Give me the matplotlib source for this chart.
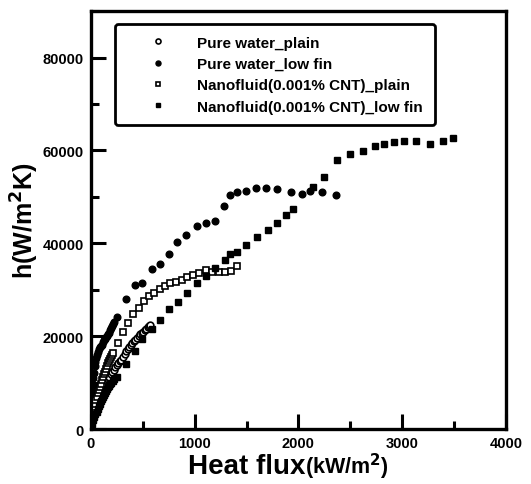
import numpy as np
import matplotlib.pyplot as plt
from matplotlib.ticker import MultipleLocator

plt.rcParams['font.family'] = ['Liberation Sans', 'DejaVu Sans']
plt.rcParams['font.weight'] = 'bold'
plt.rcParams['mathtext.default'] = 'bf'

# Pure water_plain (open circles)
pw_plain_x = [5, 10, 15, 20, 28, 35, 42, 50, 58, 66, 75, 85, 95, 105, 115, 128, 140, 152, 165, 178,
              192, 205, 220, 235, 250, 265, 280, 295, 310, 325, 340, 355, 370, 385, 400, 415, 430,
              445, 460, 475, 490, 505, 520, 535, 550, 565, 575]
pw_plain_y = [1500, 2300, 3000, 3700, 4300, 4900, 5400, 5800, 6200, 6500, 6900, 7400, 7900, 8400,
              8900, 9400, 9900, 10300, 10800, 11300, 11800, 12300, 12800, 13300, 13800, 14200,
              14600, 15000, 15600, 16200, 16800, 17300, 17700, 18100, 18500, 18900, 19300, 19700,
              20100, 20400, 20700, 21000, 21300, 21600, 21900, 22200, 22500]

# Pure water_low fin (filled circles)
pw_fin_x = [5, 8, 12, 16, 20, 25, 30, 36, 42, 50, 58, 66, 75, 85, 95, 105, 115, 125, 135, 145,
            155, 165, 175, 185, 195, 205, 215, 225, 249, 340, 427, 498, 592, 670, 754, 832, 919,
            1019, 1110, 1194, 1285, 1343, 1408, 1495, 1595, 1689, 1790, 1932, 2036, 2110, 2230, 2359]
pw_fin_y = [2500, 4000, 6000, 8000, 9500, 11000, 12200, 13500, 14500, 15300, 16000, 16700, 17200,
            17600, 17900, 18200, 18700, 19100, 19400, 19800, 20100, 20400, 20800, 21300, 21800,
            22200, 22600, 23000, 24140, 27940, 30950, 31520, 34530, 35460, 37610, 40260, 41830,
            43700, 44410, 44770, 48000, 50430, 51070, 51360, 51930, 51860, 51650, 51070, 50720,
            51220, 51070, 50360]

# Nanofluid(0.001% CNT)_plain (open squares)
nf_plain_x = [5, 10, 15, 20, 28, 36, 45, 55, 65, 75, 85, 95, 105, 115, 125, 135, 145, 155, 165,
              175, 185, 195, 205, 215, 265, 314, 362, 411, 460, 508, 563, 612, 663, 718, 767, 822,
              880, 929, 987, 1042, 1107, 1172, 1236, 1291, 1350, 1408]
nf_plain_y = [1500, 2500, 3300, 4000, 4800, 5500, 6200, 7000, 7700, 8400, 9100, 9800, 10500,
              11200, 11800, 12400, 13000, 13600, 14200, 14700, 15200, 15600, 16000, 16300, 18620,
              21000, 22900, 24700, 26100, 27700, 28650, 29370, 30230, 30800, 31380, 31660, 32090,
              32800, 33240, 33670, 34240, 33810, 33810, 33880, 34030, 35100]

# Nanofluid(0.001% CNT)_low fin (filled squares)
nf_fin_x = [5, 15, 25, 35, 45, 55, 65, 75, 85, 95, 105, 115, 125, 135, 145, 155, 165, 175, 185,
            195, 210, 225, 249, 340, 427, 498, 592, 670, 754, 838, 929, 1026, 1110, 1194, 1294,
            1343, 1408, 1495, 1602, 1706, 1796, 1883, 1948, 2142, 2246, 2369, 2498, 2618, 2735,
            2822, 2919, 3016, 3129, 3269, 3388, 3485]
nf_fin_y = [500, 1200, 1900, 2600, 3200, 3800, 4400, 5000, 5500, 6000, 6500, 7000, 7400, 7800,
            8200, 8600, 9000, 9400, 9700, 10000, 10400, 10800, 11320, 13970, 16830, 19340, 21490,
            23500, 25790, 27360, 29230, 31380, 32950, 34740, 36320, 37610, 38180, 39610, 41330,
            42840, 44410, 46200, 47490, 52150, 54300, 57880, 59240, 59960, 60890, 61460, 61750,
            61960, 61960, 61460, 62100, 62680]

fig = plt.figure(figsize=(5.31, 4.85), dpi=100)
ax = fig.add_axes([0.171, 0.113, 0.782, 0.862])

ms = 4.8
ax.plot(pw_plain_x, pw_plain_y, 'o', ms=ms, mfc='white', mec='black', mew=1.2, label='Pure water_plain')
ax.plot(pw_fin_x, pw_fin_y, 'o', ms=ms, mfc='black', mec='black', label='Pure water_low fin')
ax.plot(nf_plain_x, nf_plain_y, 's', ms=ms, mfc='white', mec='black', mew=1.2,
        label='Nanofluid(0.001% CNT)_plain')
ax.plot(nf_fin_x, nf_fin_y, 's', ms=ms, mfc='black', mec='black', label='Nanofluid(0.001% CNT)_low fin')

ax.set_xlim(0, 4000)
ax.set_ylim(0, 90000)
ax.xaxis.set_major_locator(MultipleLocator(1000))
ax.xaxis.set_minor_locator(MultipleLocator(500))
ax.yaxis.set_minor_locator(MultipleLocator(10000))
ax.set_yticks([0, 20000, 40000, 60000, 80000])

ax.tick_params(which='both', direction='in', top=False, right=False, width=2.2, labelsize=10.5)
ax.tick_params(which='major', length=11, pad=5)
ax.tick_params(which='minor', length=6)
for s in ax.spines.values():
    s.set_linewidth(2.4)

ax.set_ylabel('h(W/m$^2$K)', fontsize=18, fontweight='bold', labelpad=1)
ax.text(0.516, -0.105, 'Heat flux', transform=ax.transAxes, fontsize=20, fontweight='bold',
        ha='right', va='baseline')
ax.text(0.516, -0.105, '(kW/m$^2$)', transform=ax.transAxes, fontsize=15.5, fontweight='bold',
        ha='left', va='baseline')

leg = ax.legend(loc='upper left', bbox_to_anchor=(0.058, 0.969), fontsize=11, frameon=True,
                fancybox=True, borderpad=0.75, handlelength=4.2, handletextpad=0.45,
                labelspacing=0.48, markerscale=0.75, borderaxespad=0)
leg.get_frame().set_edgecolor('black')
leg.get_frame().set_linewidth(2.0)
leg.get_frame().set_alpha(1)

plt.savefig('out.png', dpi=100)
